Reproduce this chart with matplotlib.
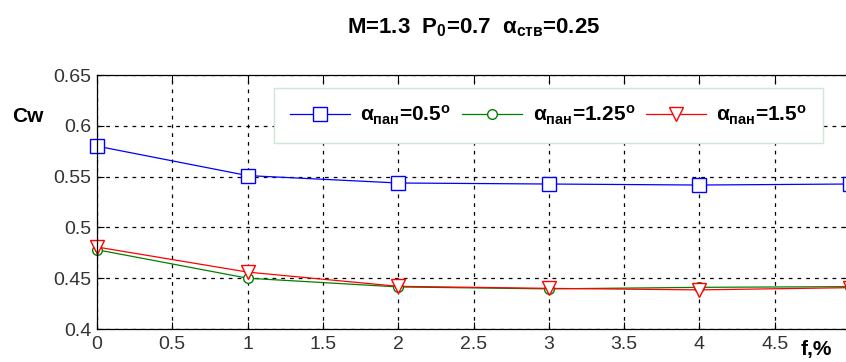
import numpy as np
import matplotlib
matplotlib.use('Agg')
import matplotlib.pyplot as plt

plt.rcParams['font.family'] = ['Liberation Sans', 'DejaVu Sans']
plt.rcParams['mathtext.fontset'] = 'custom'
plt.rcParams['mathtext.rm'] = 'Liberation Sans:bold'
plt.rcParams['mathtext.bf'] = 'Liberation Sans:bold'
plt.rcParams['mathtext.it'] = 'Liberation Sans:bold'

# data
f_pct  = [0, 1, 2, 3, 4, 5]
cw_05  = [0.580, 0.551, 0.5437, 0.5427, 0.5417, 0.5427]
cw_125 = [0.478, 0.450, 0.4414, 0.4395, 0.441, 0.4417]
cw_15  = [0.4807, 0.456, 0.442, 0.440, 0.4385, 0.4407]

labels = [r'$\alpha_{пан}$=0.5$^o$',
          r'$\alpha_{пан}$=1.25$^o$',
          r'$\alpha_{пан}$=1.5$^o$']

xticks = [0, 0.5, 1, 1.5, 2, 2.5, 3, 3.5, 4, 4.5]
yticks = [0.4, 0.45, 0.5, 0.55, 0.6, 0.65]

# figure
fig = plt.figure(figsize=(8.46, 3.62), dpi=100)
ax  = fig.add_axes([97/846, 1-329/362, 753/846, 254/362])

ax.plot(f_pct, cw_05, color='blue', lw=0.9, marker='s', ms=10,
        mfc='white', mec='blue', mew=1.0, label=labels[0], clip_on=False)
ax.plot(f_pct, cw_125, color='green', lw=0.9, marker='o', ms=7,
        mfc='white', mec='green', mew=1.0, label=labels[1], clip_on=False)
ax.plot(f_pct, cw_15, color='red', lw=0.9, marker='v', ms=10,
        mfc='white', mec='red', mew=1.0, label=labels[2], clip_on=False)

ax.set_xlim(0, 5)
ax.set_ylim(0.4, 0.65)
ax.set_xticks(xticks)
ax.set_xticklabels([('%g' % v) for v in xticks])
ax.set_yticks(yticks)
ax.set_yticklabels([('%g' % v) for v in yticks])
ax.tick_params(direction='in', labelsize=14, colors='black',
               labelcolor='#333333', length=5, width=0.8,
               top=True, right=True)
ax.tick_params(axis='x', pad=5)
ax.tick_params(axis='y', pad=4)
ax.grid(True, color='black', ls=(0, (3, 4)), lw=0.9)
for s in ax.spines.values():
    s.set_linewidth(0.9)

leg = ax.legend(loc='upper left', bbox_to_anchor=(0.235, 0.949), ncol=3,
                prop={'size': 15, 'weight': 'bold'}, handlelength=2.9,
                columnspacing=0.5, handletextpad=0.5, borderpad=0.75,
                borderaxespad=0, fancybox=False, framealpha=1,
                edgecolor='#cde8d6')
leg.get_frame().set_linewidth(1.0)

fig.text(0.56, 1-28/362, r'M=1.3  P$_0$=0.7  $\alpha_{ств}$=0.25',
         ha='center', va='center', fontsize=16, fontweight='bold')
fig.text(12/846, 1-117/362, 'Cw', ha='left', va='center',
         fontsize=15, fontweight='bold')
fig.text(816/846, 1-350/362, 'f,%', ha='center', va='center',
         fontsize=15, fontweight='bold')

fig.savefig('out.png', dpi=100)
